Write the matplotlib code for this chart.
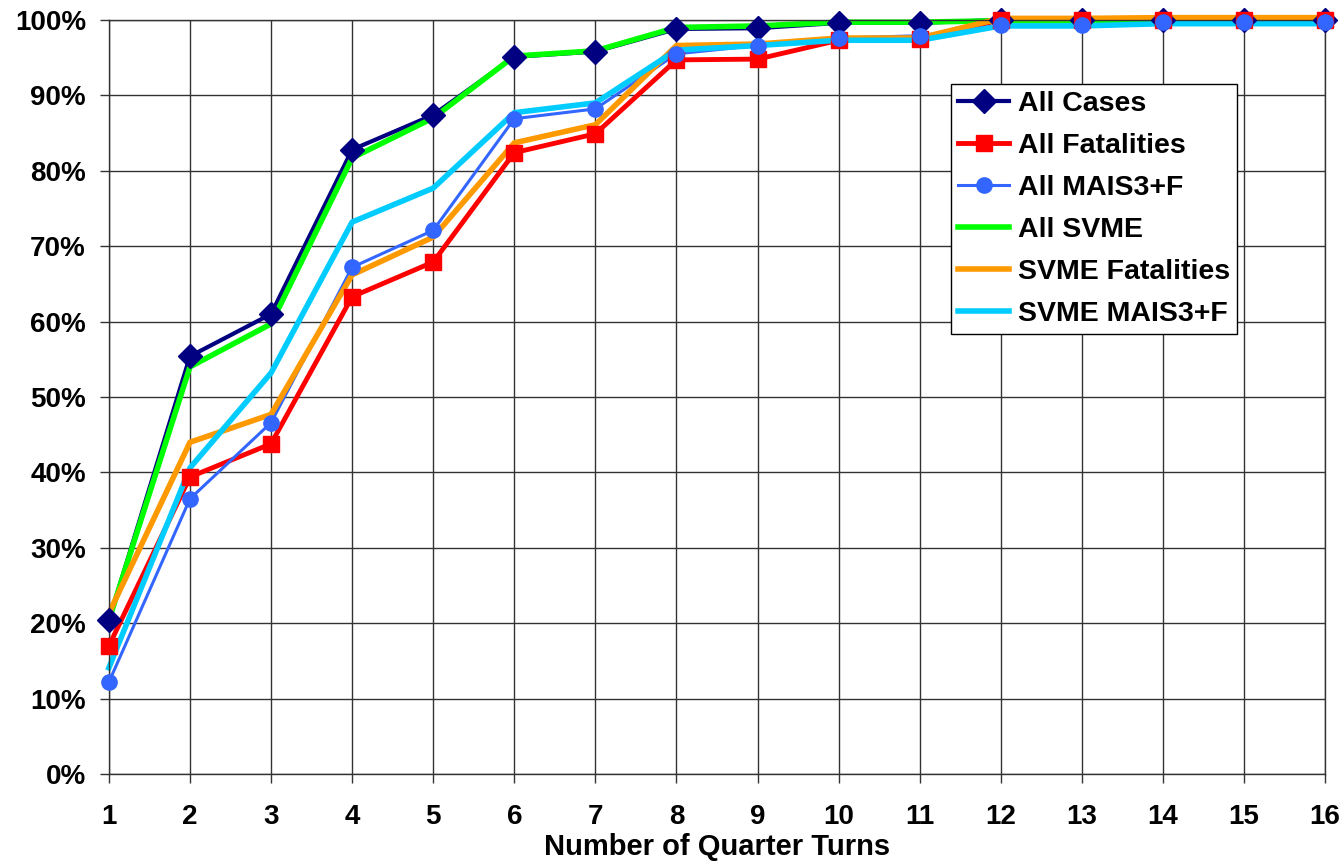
import matplotlib
matplotlib.use("Agg")
import matplotlib.pyplot as plt
from matplotlib.lines import Line2D
from matplotlib.ticker import FuncFormatter

plt.rcParams['font.family'] = ['Liberation Sans', 'DejaVu Sans']
plt.rcParams['font.weight'] = 'bold'

turns = list(range(1, 17))

all_cases = [20.4, 55.4, 61.0, 82.8, 87.4, 95.1, 95.8, 98.8, 98.9, 99.6, 99.6, 100, 100, 100, 100, 100]
all_fatal = [17.0, 39.4, 43.8, 63.3, 67.9, 82.4, 84.9, 94.7, 94.8, 97.3, 97.5, 100, 100, 100, 100, 100]
all_mais = [12.2, 36.5, 46.6, 67.2, 72.1, 86.9, 88.2, 95.5, 96.6, 97.6, 97.9, 99.3, 99.3, 99.7, 99.7, 99.7]
all_svme = [20.4, 54.0, 59.7, 81.7, 87.0, 95.2, 95.9, 99.0, 99.2, 99.7, 99.7, 99.9, 99.9, 99.9, 99.9, 99.9]
svme_fatal = [21.3, 44.0, 47.7, 66.2, 71.2, 83.7, 86.1, 96.6, 96.8, 97.6, 97.6, 100.2, 100.2, 100.3, 100.3, 100.3]
svme_mais = [14.1, 40.6, 53.2, 73.2, 77.7, 87.7, 89.0, 96.0, 96.6, 97.3, 97.3, 99.2, 99.2, 99.5, 99.5, 99.5]

series = [
    ("All Cases", all_cases, "#000080", 3.0, "D", 12),
    ("All Fatalities", all_fatal, "#FF0000", 3.5, "s", 12),
    ("All MAIS3+F", all_mais, "#3366FF", 2.2, "o", 11),
    ("All SVME", all_svme, "#00FF00", 4.0, None, 0),
    ("SVME Fatalities", svme_fatal, "#FF9900", 4.0, None, 0),
    ("SVME MAIS3+F", svme_mais, "#00CCFF", 4.0, None, 0),
]

fig = plt.figure(figsize=(13.44, 8.65), dpi=100)
ax = fig.add_axes([0.081, 0.105, 0.905, 0.872])

handles = []
for i, (name, vals, col, lw, mk, ms) in enumerate(series):
    ax.plot(turns, vals, color=col, lw=lw, zorder=2 + i * 0.1, clip_on=False)
    if mk:
        ax.plot(turns, vals, linestyle='none', marker=mk, color=col, markersize=ms,
                zorder=4 + i * 0.1, clip_on=False)
    handles.append(Line2D([], [], color=col, lw=lw, marker=mk, markersize=ms, label=name))

ax.set_xlim(1, 16)
ax.set_ylim(0, 100)
ax.set_xticks(turns)
ax.set_yticks(range(0, 101, 10))
ax.yaxis.set_major_formatter(FuncFormatter(lambda v, p: f"{int(v)}%"))
ax.grid(True, color='#333333', lw=1.0)
ax.set_axisbelow(True)
for s in ax.spines.values():
    s.set_color('#333333')
    s.set_linewidth(1.0)
ax.tick_params(labelsize=20, length=6.5, width=1, color='#333333')
ax.tick_params(axis='y', pad=10)
ax.tick_params(axis='x', pad=15)
for lab in ax.get_xticklabels() + ax.get_yticklabels():
    lab.set_fontweight('bold')

ax.set_xlabel("Number of Quarter Turns", fontsize=21, fontweight='bold', labelpad=2)

leg = ax.legend(handles=handles, loc='upper right', bbox_to_anchor=(0.9276, 0.915),
                borderaxespad=0, prop={'weight': 'bold', 'size': 20.5}, frameon=True,
                fancybox=False, edgecolor='black', framealpha=1, handlelength=1.8,
                labelspacing=0.56, borderpad=0.25, handletextpad=0.3)
leg.get_frame().set_linewidth(1.0)

fig.savefig("out.png", dpi=100)
